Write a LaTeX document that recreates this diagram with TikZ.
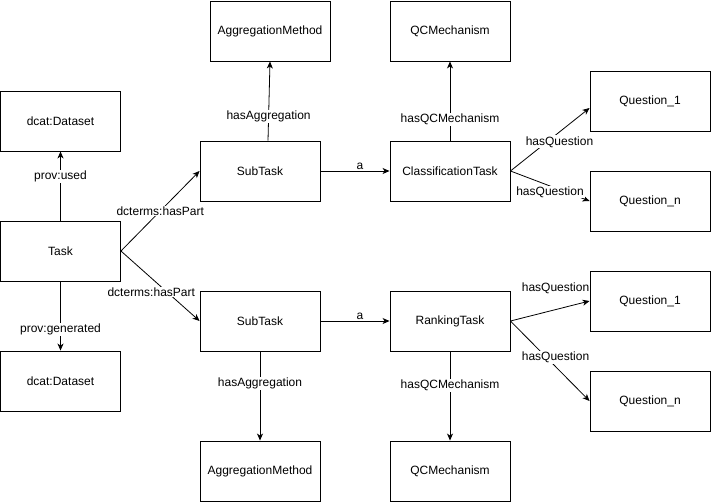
\documentclass[tikz,border=0pt]{standalone}
\usepackage{fontspec}
\setmainfont{Liberation Sans}
\usetikzlibrary{arrows.meta}

\begin{document}
\begin{tikzpicture}[x=1pt,y=-1pt,
    box/.style={draw,line width=0.9pt,minimum width=120pt,minimum height=60pt,inner sep=0pt,font=\fontsize{12}{14}\selectfont},
    rel/.style={line width=0.8pt,-{Stealth[length=7pt,width=6pt,inset=2pt]}},
    lbl/.style={fill=white,inner sep=1pt,font=\fontsize{12}{14}\selectfont}]
  \useasboundingbox (0,0) rectangle (711,501);
  % left column
  \node[box] (dsused) at (60.5,121) {dcat:Dataset};
  \node[box] (task) at (60.5,251) {Task};
  \node[box] (dsgen) at (60.5,381) {dcat:Dataset};
  % upper branch
  \node[box] (aggtop) at (270,31) {AggregationMethod};
  \node[box] (subtop) at (260,171) {SubTask};
  \node[box] (qctop) at (450,31) {QCMechanism};
  \node[box] (classtask) at (450,171) {ClassificationTask};
  \node[box] (qonetop) at (650,101) {Question\_1};
  \node[box] (qntop) at (650,201) {Question\_n};
  % lower branch
  \node[box] (subbot) at (260,321) {SubTask};
  \node[box] (aggbot) at (260,471) {AggregationMethod};
  \node[box] (ranktask) at (450,321) {RankingTask};
  \node[box] (qcbot) at (450,471) {QCMechanism};
  \node[box] (qonebot) at (650,301) {Question\_1};
  \node[box] (qnbot) at (650,401) {Question\_n};

  \draw[rel] (task) -- node[lbl,pos=0.64] {prov:used} (dsused);
  \draw[rel] (task) -- node[lbl,pos=0.7] {prov:generated} (dsgen);
  \draw[rel] (task.east) -- node[lbl,pos=0.5] {dcterms:hasPart} (subtop.west);
  \draw[rel] (task.east) -- node[lbl,pos=0.5,xshift=-9pt,yshift=-6pt] {dcterms:hasPart} (subbot.west);

  \draw[rel] ([xshift=8pt]subtop.north) -- node[lbl,pos=0.3] {hasAggregation} (aggtop.south);
  \draw[rel] (subtop) -- node[pos=0.57,above,inner sep=1pt,font=\fontsize{12}{14}\selectfont] {a} (classtask);
  \draw[rel] (classtask) -- node[lbl,pos=0.27] {hasQCMechanism} (qctop);
  \draw[rel] (classtask.east) -- node[lbl,pos=0.62,yshift=-10pt] {hasQuestion} ([yshift=-7pt]qonetop.west);
  \draw[rel] (classtask.east) -- node[lbl,pos=0.5,yshift=-6pt] {hasQuestion} (qntop.west);

  \draw[rel] (subbot) -- node[lbl,pos=0.36] {hasAggregation} (aggbot);
  \draw[rel] (subbot) -- node[pos=0.57,above,inner sep=1pt,font=\fontsize{12}{14}\selectfont] {a} (ranktask);
  \draw[rel] (ranktask) -- node[lbl,pos=0.38] {hasQCMechanism} (qcbot);
  \draw[rel] (ranktask.east) -- node[lbl,pos=0.57,yshift=21pt] {hasQuestion} (qonebot.west);
  \draw[rel] (ranktask.east) -- node[lbl,pos=0.57,yshift=9pt] {hasQuestion} (qnbot.west);
\end{tikzpicture}
\end{document}
